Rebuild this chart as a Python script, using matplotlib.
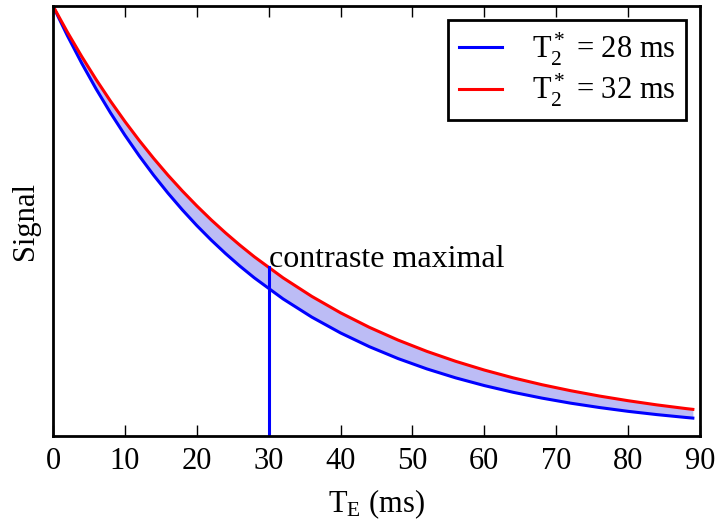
import matplotlib
matplotlib.use("Agg")
import matplotlib.pyplot as plt

# Echo times (ms) and signal values
te = [0, 2, 4, 6, 8, 10, 12, 14, 16, 18, 20, 22, 24, 26, 28, 32, 36, 40, 44,
      48, 52, 56, 60, 64, 68, 72, 76, 80, 84, 88, 89]
sig_28 = [1.000, 0.9311, 0.8669, 0.8071, 0.7515, 0.6997, 0.6514, 0.6065,
          0.5647, 0.5258, 0.4895, 0.4558, 0.4244, 0.3951, 0.3679,
          0.3189, 0.2765, 0.2397, 0.2078, 0.1801, 0.1561, 0.1353, 0.1173,
          0.1017, 0.0882, 0.0764, 0.0663, 0.0574, 0.0498, 0.0432, 0.0417]
sig_32 = [1.000, 0.9394, 0.8825, 0.8290, 0.7788, 0.7316, 0.6873, 0.6457,
          0.6065, 0.5698, 0.5353, 0.5028, 0.4724, 0.4438, 0.4169,
          0.3679, 0.3247, 0.2865, 0.2528, 0.2231, 0.1969, 0.1738, 0.1534,
          0.1353, 0.1194, 0.1054, 0.0930, 0.0821, 0.0724, 0.0639, 0.0620]
label_28 = r'$\mathrm{T}_2^*$ = 28 ms'
label_32 = r'$\mathrm{T}_2^*$ = 32 ms'
te_max = 30
sig_max = 0.392
xticks = [0, 10, 20, 30, 40, 50, 60, 70, 80, 90]

plt.rcParams['font.family'] = ['Liberation Serif', 'DejaVu Serif']
plt.rcParams['mathtext.fontset'] = 'custom'
plt.rcParams['mathtext.rm'] = 'Liberation Serif'
plt.rcParams['mathtext.it'] = 'Liberation Serif:italic'
plt.rcParams['font.size'] = 22

fig = plt.figure(figsize=(7.18, 5.23), dpi=100)
ax = fig.add_axes([0.0738, 0.1663, 0.9012, 0.8222])

ax.fill_between(te, sig_28, sig_32, color='#bcbcf5', lw=0)
ax.plot(te, sig_28, color='blue', lw=2.2, label=label_28)
ax.plot(te, sig_32, color='red', lw=2.2, label=label_32)
ax.plot([te_max, te_max], [0, sig_max], color='blue', lw=2.2)
ax.text(te_max + 0.1, sig_max, 'contraste maximal', ha='left', va='baseline',
        fontsize=23)

ax.set_xlim(0, 90)
ax.set_ylim(0, 1)
ax.set_xticks(xticks)
ax.set_yticks([])
ax.tick_params(axis='x', direction='in', top=True, length=8, width=1,
               labelsize=22, pad=8)
for s in ax.spines.values():
    s.set_linewidth(2)
ax.set_xlabel(r'$\mathrm{T}_\mathrm{E}$ (ms)', fontsize=22, labelpad=8)
ax.set_ylabel('Signal', fontsize=22, labelpad=9)

leg = ax.legend(loc='upper right', fontsize=22, fancybox=False,
                edgecolor='black', framealpha=1, handlelength=1.4,
                handletextpad=1.0, borderpad=0.35, labelspacing=0.15,
                borderaxespad=0.45)
leg.get_frame().set_linewidth(2)

fig.savefig('out.png', dpi=100)
